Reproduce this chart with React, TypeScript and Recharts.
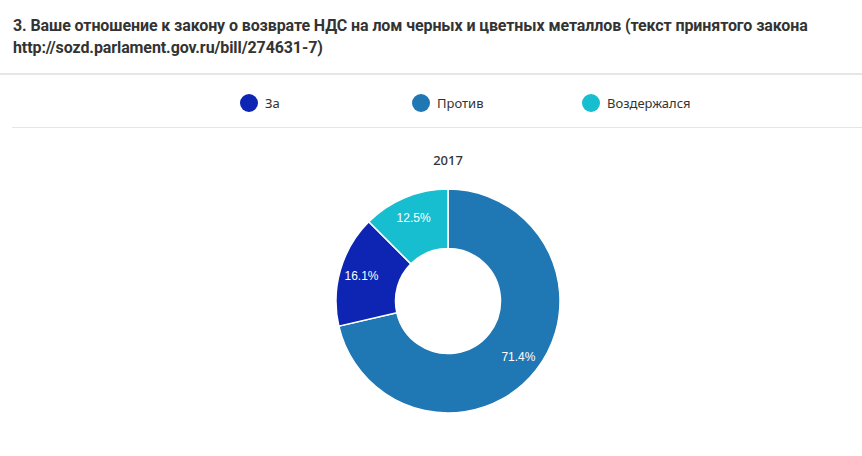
import { PieChart, Pie, Cell } from 'recharts';

const legendNames = ['За', 'Против', 'Воздержался'];
const legendColors = ['#0d25b2', '#1f77b4', '#17becf'];

// order of slices clockwise from 12 o'clock
const sliceNames = ['Против', 'За', 'Воздержался'];
const sliceValues = [71.4, 16.1, 12.5];
const sliceColors = ['#1f77b4', '#0d25b2', '#17becf'];

const year = '2017';
const titleLines = [
  '3. Ваше отношение к закону о возврате НДС на лом черных и цветных металлов (текст принятого закона',
  'http://sozd.parlament.gov.ru/bill/274631-7)',
];

const legendX = [249, 421, 591];

const RAD = Math.PI / 180;

function renderLabel(props: any) {
  const { cx, cy, midAngle, percent } = props;
  const r = 90;
  const x = cx + r * Math.cos(-midAngle * RAD);
  const y = cy + r * Math.sin(-midAngle * RAD);
  return (
    <text
      x={x}
      y={y}
      fill="#fff"
      fontSize={12}
      fontFamily="'Liberation Sans', Arial, sans-serif"
      textAnchor="middle"
      dominantBaseline="central"
    >
      {(percent * 100).toFixed(1)}%
    </text>
  );
}

export default function App() {
  const data = sliceNames.map((name, i) => ({ name, value: sliceValues[i] }));

  return (
    <div
      style={{
        position: 'absolute',
        left: 0,
        top: 0,
        width: 862,
        height: 456,
        background: '#fff',
        overflow: 'hidden',
      }}
    >
      <div
        style={{
          position: 'absolute',
          left: 13,
          top: 15,
          fontFamily: "'Roboto', sans-serif",
          fontWeight: 700,
          fontSize: 16,
          lineHeight: '22px',
          letterSpacing: -0.1,
          color: '#333',
          whiteSpace: 'nowrap',
        }}
      >
        {titleLines.map(t => (
          <div key={t}>{t}</div>
        ))}
      </div>
      <div style={{ position: 'absolute', left: 0, right: 0, top: 73, height: 2, background: '#e6e6e6' }} />

      {/* Legend */}
      {legendNames.map((name, i) => (
        <div
          key={name}
          style={{
            position: 'absolute',
            left: legendX[i] - 9,
            top: 93,
            height: 19,
            display: 'flex',
            alignItems: 'center',
            gap: 7,
          }}
        >
          <div style={{ width: 18, height: 18, borderRadius: '50%', background: legendColors[i] }} />
          <span
            style={{
              fontFamily: "'Noto Sans', sans-serif",
              fontSize: 13,
              color: '#333',
            }}
          >
            {name}
          </span>
        </div>
      ))}
      <div style={{ position: 'absolute', left: 12, right: 0, top: 127, height: 1, background: '#e6e6e6' }} />

      <div
        style={{
          position: 'absolute',
          left: 348,
          width: 200,
          top: 151,
          textAlign: 'center',
          fontFamily: "'Noto Sans', sans-serif",
          fontWeight: 500,
          fontSize: 13,
          color: '#333',
        }}
      >
        {year}
      </div>

      <div style={{ position: 'absolute', left: 0, top: 0 }}>
        <PieChart width={862} height={456} margin={{ top: 0, right: 0, bottom: 0, left: 0 }}>
          <Pie
            data={data}
            dataKey="value"
            nameKey="name"
            cx={448}
            cy={301}
            innerRadius={52.5}
            outerRadius={112}
            startAngle={90}
            endAngle={-270}
            stroke="#fff"
            strokeWidth={1.5}
            label={renderLabel}
            labelLine={false}
            isAnimationActive={false}
          >
            {data.map((d, i) => (
              <Cell key={d.name} fill={sliceColors[i]} />
            ))}
          </Pie>
        </PieChart>
      </div>
    </div>
  );
}
